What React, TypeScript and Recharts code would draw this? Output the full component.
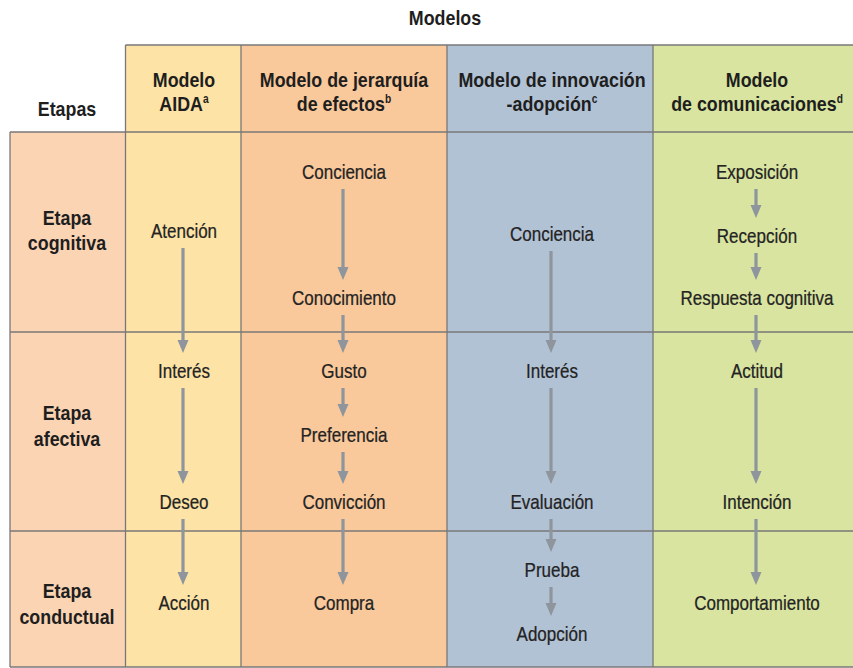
import * as React from 'react';
import {
  ComposedChart, XAxis, YAxis, Scatter, ReferenceArea, ReferenceLine,
} from 'recharts';

// diagram grid, in chart units (x: 0..853, y: 0..668 top-down)
const columnEdges = [10, 125.5, 241, 447, 653, 853];
const rowEdges = [45, 132, 332, 531, 667];

const columnFills = ['#fbd4b4', '#fde4a6', '#f9c89b', '#b2c2d5', '#d8e49f'];

const modelCenters = [184, 344, 552, 757];
const modelTitles = [
  ['Modelo', 'AIDA'],
  ['Modelo de jerarquía', 'de efectos'],
  ['Modelo de innovación', '-adopción'],
  ['Modelo', 'de comunicaciones'],
];
const modelNotes = ['a', 'b', 'c', 'd'];
const headerLevels = [80, 104];

const stageNames = [
  ['Etapa', 'cognitiva'],
  ['Etapa', 'afectiva'],
  ['Etapa', 'conductual'],
];
const stageLevels = [[218, 243], [413, 439], [591, 617]];

const aidaSteps = ['Atención', 'Interés', 'Deseo', 'Acción'];
const aidaLevels = [231, 371, 502, 603];
const jerarquiaSteps = ['Conciencia', 'Conocimiento', 'Gusto', 'Preferencia', 'Convicción', 'Compra'];
const jerarquiaLevels = [172, 298, 371, 435, 502, 603];
const innovacionSteps = ['Conciencia', 'Interés', 'Evaluación', 'Prueba', 'Adopción'];
const innovacionLevels = [234, 371, 502, 570, 634];
const comunicacionSteps = ['Exposición', 'Recepción', 'Respuesta cognitiva', 'Actitud', 'Intención', 'Comportamiento'];
const comunicacionLevels = [172, 236, 298, 371, 502, 603];

const FONT = '"Liberation Sans", Arial, sans-serif';
const GRID = '#787878';
const ARROW = '#8e959d';
const W = 853;
const H = 668;

const models = [
  { steps: aidaSteps, levels: aidaLevels },
  { steps: jerarquiaSteps, levels: jerarquiaLevels },
  { steps: innovacionSteps, levels: innovacionLevels },
  { steps: comunicacionSteps, levels: comunicacionLevels },
];

const stepPoints = models.flatMap((m, i) =>
  m.steps.map((s, j) => ({ x: modelCenters[i], y: m.levels[j], label: s })));

// arrows go from just under one step to just above the next
const arrows = models.flatMap((m, i) =>
  m.levels.slice(1).map((next, j) => ({ x: modelCenters[i] - 1, from: m.levels[j] + 17, to: next - 18 })));
const arrowTips = arrows.map(a => ({ x: a.x, y: a.to }));

const headerPoints = modelTitles.flatMap((lines, i) =>
  lines.map((l, j) => ({ x: modelCenters[i], y: headerLevels[j], label: l, sup: j === lines.length - 1 ? modelNotes[i] : '' })));

const stagePoints = stageNames.flatMap((lines, i) =>
  lines.map((l, j) => ({ x: 67, y: stageLevels[i][j], label: l, sup: '' })));

const titlePoints = [
  { x: 445, y: 18, label: 'Modelos', sup: '' },
  { x: 67, y: 109, label: 'Etapas', sup: '' },
];

// condensed look: the regular face squeezed horizontally
function StepText(props: any) {
  const { cx, cy, payload } = props;
  return (
    <text transform={`translate(${cx},${cy + 6.5}) scale(0.81,1)`} textAnchor="middle"
      fontFamily={FONT} fontSize={21} fill="#232323" stroke="#232323" strokeWidth={0.25}>
      {payload.label}
    </text>
  );
}

function BoldText(props: any) {
  const { cx, cy, payload } = props;
  return (
    <text transform={`translate(${cx},${cy + 6.5}) scale(0.85,1)`} textAnchor="middle"
      fontFamily={FONT} fontSize={21} fontWeight="bold" fill="#1e1e1e">
      {payload.label}
      {payload.sup ? <tspan dy={-8} fontSize={12}>{payload.sup}</tspan> : null}
    </text>
  );
}

function ArrowHead(props: any) {
  const { cx, cy } = props;
  return <polygon points={`${cx - 5.5},${cy - 13} ${cx + 5.5},${cy - 13} ${cx},${cy}`} fill={ARROW} />;
}

export default function App() {
  const top = rowEdges[0];
  const body = rowEdges[1];
  const bottom = rowEdges[rowEdges.length - 1];
  return (
    <div style={{ position: 'absolute', left: 0, top: 0, width: W, height: H, background: '#fff' }}>
      <ComposedChart width={W} height={H} margin={{ top: 0, right: 0, bottom: 0, left: 0 }}>
        <XAxis type="number" dataKey="x" domain={[0, W]} hide allowDataOverflow />
        <YAxis type="number" dataKey="y" domain={[0, H]} reversed hide allowDataOverflow />

        {columnFills.map((fill, i) => (
          <ReferenceArea key={`fill-${i}`} x1={columnEdges[i]} x2={columnEdges[i + 1]}
            y1={i === 0 ? body : top} y2={bottom} fill={fill} fillOpacity={1} stroke="none" ifOverflow="visible" />
        ))}

        {rowEdges.map((y, i) => (
          <ReferenceLine key={`h-${i}`} segment={[{ x: i === 0 ? columnEdges[1] : columnEdges[0], y }, { x: W, y }]}
            stroke={GRID} strokeWidth={1.3} ifOverflow="visible" />
        ))}
        {columnEdges.slice(0, -1).map((x, i) => (
          <ReferenceLine key={`v-${i}`} segment={[{ x, y: i === 0 ? body : top }, { x, y: bottom }]}
            stroke={GRID} strokeWidth={1.3} ifOverflow="visible" />
        ))}

        {arrows.map((a, i) => (
          <ReferenceLine key={`a-${i}`} segment={[{ x: a.x, y: a.from }, { x: a.x, y: a.to - 10 }]}
            stroke={ARROW} strokeWidth={3.2} ifOverflow="visible" />
        ))}
        <Scatter data={arrowTips} shape={ArrowHead} isAnimationActive={false} />

        <Scatter data={stepPoints} shape={StepText} isAnimationActive={false} />
        <Scatter data={[...headerPoints, ...stagePoints, ...titlePoints]} shape={BoldText} isAnimationActive={false} />
      </ComposedChart>
    </div>
  );
}
